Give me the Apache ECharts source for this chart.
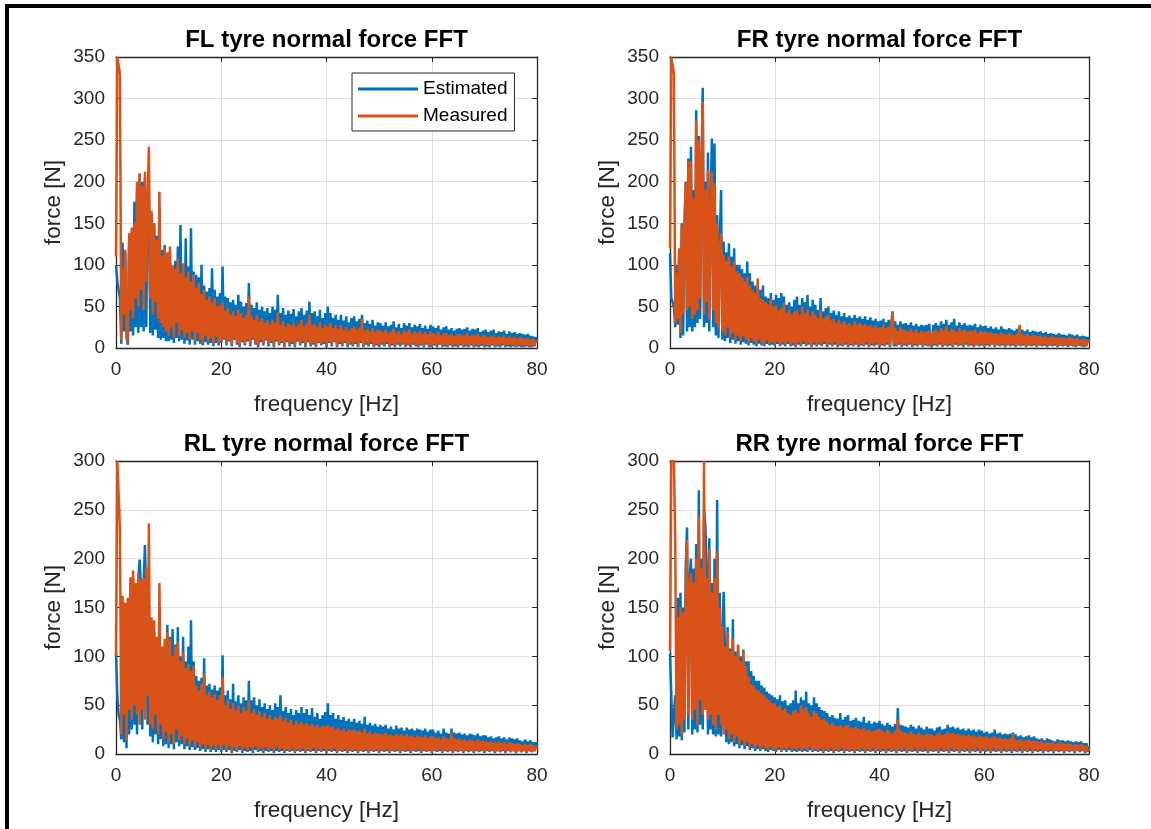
<!DOCTYPE html>
<html>
<head>
<meta charset="utf-8">
<script src="https://cdn.jsdelivr.net/npm/echarts@6.0.0/dist/echarts.min.js"></script>
<style>
  html, body { margin: 0; padding: 0; background: #fff; overflow: hidden; }
  #chart { width: 1151px; height: 829px; }
</style>
</head>
<body>
<div id="chart"></div>
<script>
// FFT bin spacing of the spectra below (Hz); bins run 0 .. 80 Hz, 20 bins per row
const FREQ_STEP_HZ = 0.25;

// Front-left tyre normal force amplitude [N]
const FL_EST = [
  100, 80, 70, 60, 5, 127, 20, 115, 12, 4, 130, 20, 140, 15, 176, 25, 190, 18, 210, 25,
  200, 20, 205, 25, 185, 190, 18, 160, 15, 150, 22, 135, 12, 170, 10, 118, 12, 124, 8, 112,
  8, 110, 10, 95, 6, 105, 12, 122, 8, 148, 10, 100, 5, 132, 9, 98, 4, 144, 10, 92,
  4, 88, 8, 85, 5, 100, 3, 75, 7, 68, 4, 72, 6, 96, 2, 70, 6, 62, 3, 66,
  6, 98, 10, 62, 3, 60, 8, 55, 2, 58, 10, 52, 4, 64, 1, 56, 7, 50, 3, 54,
  8, 78, 2, 52, 10, 48, 4, 55, 1, 46, 7, 50, 3, 44, 9, 48, 2, 42, 6, 50,
  1, 46, 8, 64, 3, 42, 6, 48, 1, 40, 7, 45, 2, 41, 5, 47, 1, 38, 8, 44,
  3, 48, 6, 40, 1, 45, 7, 56, 2, 42, 4, 44, 1, 38, 6, 46, 3, 36, 5, 42,
  1, 50, 6, 42, 2, 36, 7, 40, 1, 34, 5, 40, 2, 33, 6, 38, 1, 31, 4, 36,
  2, 38, 5, 32, 1, 35, 6, 40, 1, 30, 4, 33, 2, 29, 5, 34, 1, 27, 3, 31,
  1, 30, 4, 27, 2, 31, 5, 26, 1, 28, 3, 32, 1, 25, 4, 29, 2, 24, 4, 30,
  1, 27, 3, 30, 1, 25, 4, 28, 2, 26, 1, 29, 3, 24, 1, 27, 4, 23, 1, 28,
  1, 26, 3, 24, 1, 27, 4, 22, 1, 25, 2, 26, 1, 22, 3, 24, 1, 21, 2, 23,
  1, 24, 3, 22, 1, 23, 2, 25, 1, 21, 3, 23, 1, 22, 2, 24, 1, 19, 3, 21,
  1, 22, 2, 19, 1, 21, 3, 22, 1, 18, 2, 20, 1, 19, 3, 21, 1, 17, 2, 20,
  1, 18, 2, 19, 1, 17, 2, 18, 1, 17, 1, 16, 2, 17, 1, 15, 1, 14, 2, 13,
  8
];
const FL_MEAS = [
  110, 350, 350, 330, 10, 95, 40, 118, 25, 6, 138, 45, 145, 35, 150, 60, 200, 50, 210, 70,
  195, 45, 212, 80, 175, 242, 60, 165, 40, 150, 55, 130, 35, 188, 30, 110, 25, 120, 20, 115,
  15, 122, 25, 100, 12, 95, 30, 108, 14, 90, 22, 102, 12, 85, 18, 92, 10, 80, 20, 88,
  8, 72, 18, 78, 10, 65, 6, 70, 15, 58, 8, 62, 12, 55, 5, 60, 14, 50, 6, 52,
  8, 55, 12, 45, 5, 48, 10, 40, 4, 44, 12, 38, 6, 46, 3, 42, 9, 36, 5, 40,
  10, 62, 4, 38, 12, 34, 6, 40, 3, 32, 9, 36, 5, 30, 11, 33, 4, 28, 8, 34,
  3, 30, 10, 43, 5, 28, 8, 32, 2, 26, 9, 30, 4, 27, 7, 31, 3, 25, 10, 29,
  5, 34, 8, 26, 3, 30, 9, 40, 4, 27, 6, 29, 2, 25, 8, 31, 5, 24, 7, 28,
  3, 26, 8, 30, 4, 24, 9, 27, 2, 23, 7, 28, 4, 22, 8, 25, 3, 21, 6, 24,
  4, 26, 7, 22, 2, 24, 8, 35, 3, 21, 6, 23, 4, 20, 7, 24, 2, 19, 5, 22,
  3, 21, 6, 19, 4, 22, 7, 18, 2, 20, 5, 23, 3, 18, 6, 20, 4, 17, 6, 21,
  2, 19, 5, 22, 3, 17, 6, 20, 4, 18, 2, 21, 5, 17, 3, 19, 6, 16, 3, 20,
  2, 18, 5, 16, 3, 19, 6, 15, 2, 17, 4, 18, 3, 15, 5, 17, 2, 14, 4, 16,
  3, 17, 5, 15, 2, 16, 4, 18, 3, 14, 5, 16, 2, 15, 4, 17, 3, 13, 5, 15,
  2, 15, 4, 13, 3, 14, 5, 15, 2, 12, 4, 14, 3, 13, 5, 15, 2, 12, 4, 14,
  3, 12, 4, 13, 2, 11, 4, 13, 3, 12, 2, 11, 4, 12, 3, 10, 2, 11, 3, 9,
  6
];

// Front-right tyre
const FR_EST = [
  114, 60, 58, 50, 25, 100, 28, 115, 12, 150, 15, 145, 200, 20, 228, 25, 242, 20, 190, 25,
  286, 30, 255, 35, 210, 313, 25, 200, 30, 235, 20, 180, 252, 25, 246, 15, 160, 12, 130, 190,
  10, 128, 8, 115, 12, 126, 6, 110, 10, 120, 5, 100, 8, 100, 4, 95, 7, 90, 5, 104,
  3, 90, 6, 80, 4, 75, 2, 72, 5, 70, 3, 75, 2, 62, 5, 60, 3, 66, 4, 58,
  2, 64, 5, 60, 2, 66, 4, 62, 2, 52, 5, 55, 2, 50, 3, 58, 1, 62, 4, 52,
  2, 60, 5, 55, 2, 64, 4, 50, 1, 58, 4, 52, 2, 46, 4, 60, 2, 44, 5, 48,
  1, 50, 4, 42, 2, 45, 4, 40, 1, 44, 3, 38, 2, 42, 4, 37, 1, 39, 3, 36,
  2, 40, 4, 36, 1, 38, 3, 35, 2, 38, 4, 34, 1, 37, 3, 33, 2, 35, 4, 32,
  1, 33, 3, 35, 2, 31, 4, 34, 1, 30, 44, 2, 32, 2, 28, 4, 32, 1, 29, 3,
  30, 2, 28, 4, 31, 1, 27, 3, 29, 2, 26, 4, 28, 1, 27, 3, 28, 2, 29, 4,
  1, 28, 3, 30, 2, 27, 4, 32, 1, 29, 3, 34, 2, 28, 3, 31, 1, 35, 4, 27,
  2, 31, 3, 28, 1, 30, 4, 27, 2, 28, 3, 27, 1, 29, 3, 25, 2, 28, 3, 26,
  1, 27, 3, 24, 2, 26, 4, 23, 1, 25, 3, 22, 2, 26, 3, 23, 1, 22, 3, 24,
  2, 22, 3, 21, 1, 23, 3, 26, 2, 22, 3, 20, 1, 22, 3, 19, 2, 21, 3, 20,
  1, 19, 3, 20, 2, 18, 3, 19, 1, 17, 3, 18, 2, 17, 3, 16, 1, 18, 3, 16,
  2, 16, 3, 15, 1, 17, 3, 16, 2, 15, 1, 16, 3, 14, 2, 15, 1, 14, 2, 13,
  8
];
const FR_MEAS = [
  120, 350, 350, 330, 30, 90, 35, 120, 18, 148, 40, 140, 198, 45, 225, 50, 224, 35, 180, 40,
  274, 45, 250, 60, 205, 296, 40, 190, 55, 214, 35, 170, 212, 45, 198, 30, 150, 25, 120, 138,
  20, 112, 15, 105, 25, 110, 12, 98, 18, 104, 10, 92, 15, 90, 8, 85, 14, 80, 10, 86,
  6, 75, 12, 70, 8, 66, 5, 84, 10, 60, 6, 58, 4, 55, 9, 52, 5, 60, 7, 50,
  4, 52, 8, 46, 3, 48, 7, 55, 4, 42, 8, 46, 3, 40, 6, 44, 2, 46, 7, 40,
  3, 50, 8, 42, 4, 46, 6, 38, 2, 44, 7, 40, 3, 36, 6, 45, 4, 35, 8, 38,
  2, 40, 6, 33, 3, 35, 7, 30, 2, 34, 5, 29, 3, 32, 6, 28, 2, 30, 5, 27,
  3, 32, 6, 28, 2, 30, 5, 27, 3, 29, 7, 26, 2, 28, 5, 25, 3, 27, 6, 24,
  2, 25, 5, 28, 3, 24, 6, 26, 2, 22, 43, 4, 24, 3, 20, 6, 25, 2, 22, 5,
  21, 3, 20, 6, 23, 2, 19, 5, 22, 3, 18, 6, 21, 2, 19, 5, 20, 3, 21, 6,
  2, 20, 5, 22, 3, 19, 6, 24, 2, 21, 4, 26, 3, 20, 5, 23, 2, 22, 6, 19,
  3, 24, 5, 20, 2, 22, 6, 19, 3, 21, 5, 20, 2, 22, 4, 18, 3, 21, 5, 19,
  2, 20, 5, 18, 3, 19, 6, 17, 2, 18, 4, 16, 3, 19, 5, 17, 2, 16, 4, 18,
  3, 16, 5, 15, 2, 17, 4, 28, 3, 16, 5, 15, 2, 17, 4, 14, 3, 16, 5, 15,
  2, 14, 4, 15, 3, 13, 5, 14, 2, 12, 4, 14, 3, 13, 5, 12, 2, 13, 4, 12,
  3, 12, 4, 11, 2, 13, 4, 12, 3, 11, 2, 12, 4, 10, 3, 11, 2, 10, 3, 9,
  6
];

// Rear-left tyre
const RL_EST = [
  103, 60, 40, 35, 15, 140, 12, 150, 6, 155, 20, 175, 25, 180, 30, 170, 20, 180, 199, 170,
  25, 175, 214, 160, 30, 140, 18, 130, 12, 125, 20, 110, 10, 150, 15, 100, 8, 105, 10, 132,
  6, 120, 10, 128, 5, 112, 12, 130, 8, 100, 10, 120, 5, 95, 8, 110, 4, 137, 7, 95,
  4, 80, 6, 75, 3, 78, 5, 98, 2, 70, 5, 72, 2, 66, 4, 70, 2, 65, 4, 68,
  2, 101, 4, 60, 2, 65, 4, 56, 1, 72, 3, 54, 2, 60, 4, 52, 1, 58, 3, 55,
  2, 75, 3, 55, 1, 58, 4, 50, 2, 56, 3, 48, 1, 52, 3, 46, 2, 50, 3, 45,
  1, 52, 3, 48, 2, 60, 3, 44, 1, 48, 3, 42, 2, 46, 3, 40, 1, 45, 3, 42,
  2, 48, 3, 42, 1, 46, 3, 40, 2, 47, 3, 38, 1, 42, 3, 36, 2, 40, 3, 43,
  1, 52, 3, 40, 2, 42, 3, 36, 1, 40, 3, 35, 2, 38, 3, 34, 1, 36, 3, 33,
  2, 36, 3, 32, 1, 34, 3, 31, 2, 38, 3, 30, 1, 32, 3, 29, 2, 31, 3, 28,
  1, 30, 3, 28, 2, 30, 3, 26, 1, 28, 3, 25, 2, 29, 3, 26, 1, 27, 3, 24,
  2, 27, 3, 25, 1, 26, 3, 24, 2, 26, 3, 25, 1, 24, 3, 26, 2, 23, 3, 25,
  1, 25, 3, 22, 2, 24, 3, 21, 1, 26, 3, 22, 2, 21, 3, 26, 1, 22, 3, 21,
  2, 22, 3, 20, 1, 21, 3, 19, 2, 21, 3, 20, 1, 19, 3, 21, 2, 18, 3, 19,
  1, 19, 3, 17, 2, 18, 3, 16, 1, 17, 3, 18, 2, 16, 3, 17, 1, 15, 3, 17,
  2, 16, 3, 15, 1, 16, 3, 14, 2, 13, 3, 15, 1, 13, 3, 14, 2, 12, 3, 12,
  8
];
const RL_MEAS = [
  100, 300, 300, 230, 20, 162, 40, 155, 14, 160, 45, 181, 35, 188, 50, 175, 40, 185, 30, 178,
  45, 180, 35, 190, 60, 236, 30, 140, 25, 137, 40, 120, 20, 175, 30, 110, 15, 118, 22, 125,
  12, 118, 20, 100, 10, 110, 25, 115, 14, 95, 18, 105, 10, 88, 16, 92, 8, 85, 14, 90,
  8, 70, 12, 65, 6, 72, 10, 83, 5, 60, 9, 64, 4, 58, 8, 62, 5, 55, 9, 60,
  5, 79, 9, 50, 4, 55, 8, 46, 3, 52, 7, 45, 4, 50, 8, 42, 3, 48, 6, 44,
  4, 55, 7, 42, 3, 46, 8, 40, 4, 44, 6, 38, 3, 42, 7, 36, 4, 40, 6, 35,
  3, 38, 7, 36, 4, 40, 6, 34, 2, 37, 5, 32, 3, 35, 6, 30, 2, 34, 5, 31,
  3, 33, 6, 30, 2, 32, 5, 29, 3, 31, 6, 28, 2, 30, 5, 27, 3, 29, 6, 28,
  2, 30, 5, 27, 3, 28, 6, 25, 2, 27, 4, 24, 3, 26, 5, 23, 2, 25, 4, 24,
  3, 25, 5, 23, 2, 24, 4, 22, 3, 26, 5, 21, 2, 23, 4, 20, 3, 22, 5, 21,
  2, 21, 4, 20, 3, 22, 5, 19, 2, 20, 4, 18, 3, 21, 5, 19, 2, 20, 4, 18,
  3, 20, 5, 18, 2, 19, 4, 17, 3, 19, 5, 18, 2, 17, 4, 19, 3, 16, 4, 18,
  2, 18, 4, 16, 3, 17, 5, 15, 2, 18, 4, 16, 3, 15, 4, 22, 2, 16, 4, 15,
  3, 16, 4, 14, 2, 15, 4, 13, 3, 15, 4, 14, 2, 13, 4, 15, 3, 13, 4, 14,
  2, 13, 4, 12, 3, 13, 4, 11, 2, 12, 3, 13, 2, 11, 4, 12, 3, 10, 4, 12,
  2, 11, 3, 10, 2, 11, 3, 10, 2, 9, 3, 10, 2, 9, 3, 10, 2, 9, 3, 8,
  5
];

// Rear-right tyre
const RR_EST = [
  103, 60, 17, 40, 60, 15, 160, 18, 165, 14, 150, 22, 190, 232, 25, 180, 200, 20, 190, 25,
  215, 22, 270, 30, 200, 25, 250, 235, 190, 20, 221, 25, 175, 20, 200, 18, 260, 20, 165, 18,
  120, 166, 100, 12, 130, 10, 108, 12, 138, 8, 105, 10, 110, 6, 100, 9, 107, 5, 95, 8,
  95, 4, 85, 6, 80, 3, 75, 5, 75, 3, 70, 5, 68, 3, 64, 2, 62, 4, 60, 3,
  58, 2, 56, 4, 60, 2, 54, 4, 55, 2, 50, 4, 52, 2, 55, 3, 65, 2, 52, 3,
  58, 2, 55, 3, 64, 2, 52, 4, 50, 2, 58, 3, 52, 2, 48, 3, 45, 1, 44, 3,
  42, 2, 38, 3, 40, 1, 37, 3, 36, 2, 42, 3, 35, 1, 38, 3, 40, 2, 34, 3,
  35, 1, 37, 3, 34, 2, 33, 3, 38, 1, 32, 3, 34, 2, 31, 3, 33, 1, 32, 3,
  34, 2, 31, 3, 29, 1, 32, 3, 30, 2, 28, 3, 31, 1, 47, 3, 30, 2, 29, 3,
  28, 1, 27, 3, 30, 2, 28, 3, 26, 1, 29, 3, 27, 2, 25, 3, 28, 1, 26, 3,
  26, 2, 24, 3, 27, 1, 28, 3, 25, 2, 26, 3, 30, 1, 27, 3, 28, 2, 26, 3,
  27, 1, 25, 3, 26, 2, 24, 3, 26, 1, 24, 3, 25, 2, 23, 3, 25, 1, 24, 3,
  22, 2, 23, 3, 21, 1, 22, 3, 25, 2, 21, 3, 22, 1, 20, 3, 21, 2, 20, 3,
  21, 1, 22, 3, 20, 2, 18, 3, 19, 1, 17, 3, 18, 2, 19, 3, 17, 1, 18, 3,
  16, 2, 15, 3, 16, 1, 14, 3, 16, 2, 15, 3, 14, 1, 13, 3, 15, 2, 14, 3,
  14, 1, 13, 3, 14, 2, 13, 3, 12, 1, 13, 3, 12, 2, 13, 3, 11, 1, 11, 2,
  8
];
const RR_MEAS = [
  105, 300, 300, 300, 215, 25, 140, 30, 150, 20, 145, 35, 160, 219, 40, 170, 185, 35, 175, 45,
  200, 30, 243, 55, 190, 40, 300, 45, 180, 35, 210, 40, 165, 30, 180, 25, 208, 40, 150, 30,
  131, 20, 110, 25, 125, 15, 105, 20, 118, 12, 100, 18, 112, 10, 95, 14, 105, 8, 90, 12,
  80, 7, 72, 10, 70, 6, 66, 9, 65, 5, 62, 8, 60, 6, 57, 4, 55, 7, 52, 5,
  52, 4, 48, 7, 50, 3, 45, 6, 47, 4, 42, 7, 40, 3, 44, 6, 45, 4, 42, 6,
  50, 3, 46, 6, 48, 4, 42, 7, 38, 3, 44, 5, 42, 3, 38, 6, 35, 2, 36, 5,
  33, 3, 30, 6, 32, 2, 29, 5, 28, 3, 30, 6, 27, 2, 29, 5, 30, 3, 26, 5,
  27, 2, 28, 5, 26, 3, 25, 6, 27, 2, 24, 5, 25, 3, 23, 6, 24, 2, 25, 5,
  26, 3, 24, 5, 22, 2, 25, 6, 23, 3, 21, 5, 24, 2, 35, 5, 24, 3, 22, 6,
  22, 2, 20, 5, 23, 3, 21, 6, 19, 2, 22, 5, 20, 3, 19, 6, 21, 2, 20, 5,
  20, 3, 18, 5, 21, 2, 22, 6, 19, 3, 20, 5, 23, 2, 21, 6, 22, 3, 20, 5,
  21, 2, 19, 5, 20, 3, 18, 6, 20, 2, 18, 5, 19, 3, 17, 6, 19, 2, 18, 5,
  17, 3, 18, 5, 16, 2, 17, 6, 18, 3, 16, 5, 17, 2, 15, 6, 16, 3, 15, 5,
  16, 2, 20, 5, 15, 3, 14, 6, 15, 2, 13, 5, 14, 3, 15, 6, 13, 2, 14, 5,
  13, 3, 12, 5, 13, 2, 11, 4, 12, 3, 11, 5, 12, 2, 10, 4, 11, 3, 12, 4,
  11, 2, 10, 4, 11, 3, 10, 4, 9, 2, 10, 4, 9, 3, 10, 4, 9, 2, 8, 3,
  5
];

const SERIES_NAMES = ['Estimated', 'Measured'];
const X_LABEL = 'frequency [Hz]';
const Y_LABEL = 'force [N]';

// ---- styling ----
const FONT = '"Liberation Sans", Arial, Helvetica, sans-serif';
const BLUE = '#0072BD';
const ORANGE = '#D95319';
const INK = '#262626';
const GRID_LINE = '#dfdfdf';

const PANELS = [
  { title: 'FL tyre normal force FFT', est: FL_EST, meas: FL_MEAS, yMax: 350, left: 116, top: 57,  width: 421, height: 291 },
  { title: 'FR tyre normal force FFT', est: FR_EST, meas: FR_MEAS, yMax: 350, left: 670, top: 57,  width: 419, height: 291 },
  { title: 'RL tyre normal force FFT', est: RL_EST, meas: RL_MEAS, yMax: 300, left: 116, top: 461, width: 421, height: 293 },
  { title: 'RR tyre normal force FFT', est: RR_EST, meas: RR_MEAS, yMax: 300, left: 670, top: 461, width: 419, height: 293 }
];

const toPairs = vals => vals.map((v, i) => [i * FREQ_STEP_HZ, v]);

const tickStyle = { show: true, inside: true, length: 5, lineStyle: { color: INK, width: 1 } };
const edgeStyle = { show: true, onZero: false, lineStyle: { color: INK, width: 1.3 } };

const grids = [], xAxes = [], yAxes = [], series = [], titles = [];

PANELS.forEach((p, k) => {
  grids.push({ left: p.left, top: p.top, width: p.width, height: p.height, containLabel: false });

  titles.push({
    text: p.title,
    left: p.left + p.width / 2,
    top: p.top - 29,
    textAlign: 'center',
    padding: 0,
    textStyle: { fontFamily: FONT, fontSize: 24, fontWeight: 'bold', color: '#000' }
  });

  // bottom axis carries labels; top axis only closes the box and repeats the ticks
  xAxes.push({
    type: 'value', gridIndex: k, position: 'bottom', min: 0, max: 80, interval: 20,
    name: X_LABEL, nameLocation: 'middle', nameGap: 45, nameMoveOverlap: false,
    nameTextStyle: { fontFamily: FONT, fontSize: 22.5, color: INK },
    axisLine: edgeStyle, axisTick: tickStyle,
    axisLabel: { fontFamily: FONT, fontSize: 19, color: INK, margin: 12 },
    splitLine: { show: true, lineStyle: { color: GRID_LINE, width: 1 } }
  });
  xAxes.push({
    type: 'value', gridIndex: k, position: 'top', min: 0, max: 80, interval: 20,
    axisLine: edgeStyle, axisTick: tickStyle, axisLabel: { show: false }, splitLine: { show: false }
  });

  yAxes.push({
    type: 'value', gridIndex: k, position: 'left', min: 0, max: p.yMax, interval: 50,
    name: Y_LABEL, nameLocation: 'middle', nameGap: 51, nameRotate: 90, nameMoveOverlap: false,
    nameTextStyle: { fontFamily: FONT, fontSize: 22.5, color: INK },
    axisLine: edgeStyle, axisTick: tickStyle,
    axisLabel: { fontFamily: FONT, fontSize: 19, color: INK, margin: 11 },
    splitLine: { show: true, lineStyle: { color: GRID_LINE, width: 1 } }
  });
  yAxes.push({
    type: 'value', gridIndex: k, position: 'right', min: 0, max: p.yMax, interval: 50,
    axisLine: edgeStyle, axisTick: tickStyle, axisLabel: { show: false }, splitLine: { show: false }
  });

  [[p.est, BLUE, 2], [p.meas, ORANGE, 3]].forEach(([vals, color, z], j) => {
    series.push({
      type: 'line', name: SERIES_NAMES[j],
      xAxisIndex: 2 * k, yAxisIndex: 2 * k,
      data: toPairs(vals),
      symbol: 'none', showSymbol: false, clip: true, silent: true, z,
      lineStyle: { color, width: 2.5 }, itemStyle: { color }
    });
  });
});

const chart = echarts.init(document.getElementById('chart'));
chart.setOption({
  animation: false,
  backgroundColor: '#fff',
  title: titles,
  grid: grids,
  xAxis: xAxes,
  yAxis: yAxes,
  series,
  legend: {
    data: SERIES_NAMES,
    orient: 'vertical',
    left: 352, top: 73,
    padding: [5, 7, 4, 6],
    itemGap: 5, itemWidth: 60, itemHeight: 3,
    icon: 'rect',
    selectedMode: false,
    backgroundColor: '#fff',
    borderColor: INK, borderWidth: 1,
    textStyle: { fontFamily: FONT, fontSize: 19, color: '#000', lineHeight: 22 }
  },
  // outer frame of the figure window
  graphic: [
    { type: 'rect', shape: { x: 5, y: 4, width: 1200, height: 4 }, style: { fill: '#000' }, silent: true },
    { type: 'rect', shape: { x: 5, y: 4, width: 4, height: 900 }, style: { fill: '#000' }, silent: true }
  ]
});
</script>
</body>
</html>
